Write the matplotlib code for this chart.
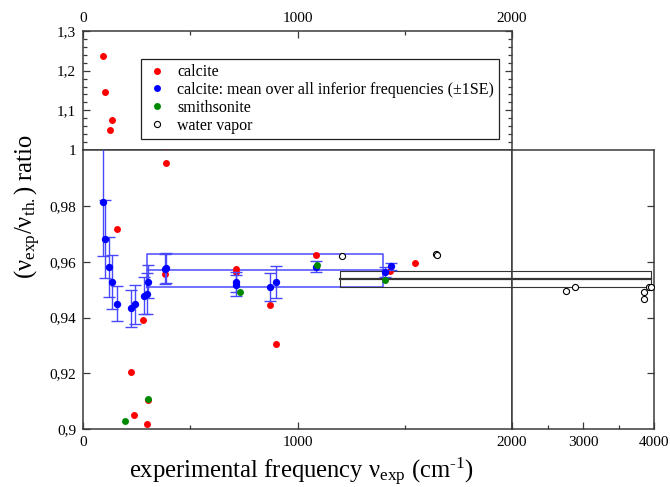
import matplotlib.pyplot as plt
from matplotlib.lines import Line2D

plt.rcParams['font.family'] = ['Liberation Serif', 'DejaVu Serif']
plt.rcParams['mathtext.fontset'] = 'custom'
plt.rcParams['mathtext.rm'] = 'Liberation Serif'
plt.rcParams['mathtext.it'] = 'Liberation Serif:italic'

# calcite (individual frequencies)
calcite_freq = [93, 104, 124, 134, 157, 224, 239, 281, 297, 301, 381, 387,
                712, 712, 872, 900, 1086, 1431, 1548]
calcite_ratio = [1.2375, 1.1453, 1.0512, 1.0756, 0.9717, 0.9205, 0.9050, 0.9392,
                 0.9018, 0.9106, 0.9556, 0.9952, 0.9573, 0.9564, 0.9444, 0.9307,
                 0.9624, 0.9567, 0.9594]

# calcite: mean over all inferior frequencies (+-1SE)
mean_freq = [93, 103, 123, 134, 157, 224, 242, 283, 298, 305, 382, 386,
             712, 712, 872, 900, 1086, 1408, 1436]
mean_ratio = [0.9815, 0.9680, 0.9582, 0.9527, 0.9450, 0.9433, 0.9448, 0.9479,
              0.9486, 0.9529, 0.9573, 0.9577, 0.9526, 0.9516, 0.9510, 0.9526,
              0.9582, 0.9564, 0.9583]
mean_se = [0.0195, 0.0140, 0.0107, 0.0097, 0.0064, 0.0066, 0.0070, 0.0067,
           0.0072, 0.0060, 0.0054, 0.0054, 0.0036, 0.0038, 0.0049, 0.0057,
           0.0020, 0.0018, 0.0011]

# smithsonite
smith_freq = [196, 303, 732, 1092, 1408]
smith_ratio = [0.9029, 0.9110, 0.9491, 0.9588, 0.9535]

# water vapor
water_freq = [1206, 1644, 1652, 2763, 2885, 3850, 3850, 3930, 3948]
water_ratio = [0.9620, 0.9629, 0.9624, 0.9496, 0.9510, 0.9490, 0.9465, 0.9511, 0.9511]

# overall means (range of frequencies, lower, mean, upper)
calcite_band_x = [300, 1400]
calcite_band = [0.9509, 0.9570, 0.9627]
water_band_x = [1200, 3950]
water_band = [0.9508, 0.9537, 0.9567]

W, H = 670, 487
fig = plt.figure(figsize=(W / 100, H / 100), dpi=100)


def px_axes(x0, y0, x1, y1):
    return fig.add_axes([x0 / W, 1 - y1 / H, (x1 - x0) / W, (y1 - y0) / H])


ax_up = px_axes(83, 31, 512, 150)
ax_lo = px_axes(83, 150, 512, 429.3)
ax_r = px_axes(512, 150, 654.3, 429.3)

spine_col = '#3a3a3a'
for ax in (ax_up, ax_lo, ax_r):
    for s in ax.spines.values():
        s.set_color(spine_col)
        s.set_linewidth(1.1)
    ax.tick_params(which='both', direction='in', color=spine_col, labelsize=11,
                   width=0.9)
    ax.tick_params(which='major', length=5)
    ax.tick_params(which='minor', length=3)

# upper panel
ax_up.set_xlim(0, 2000)
ax_up.set_ylim(1.0, 1.3)
ax_up.xaxis.tick_top()
ax_up.set_xticks([0, 1000, 2000], ['0', '1000', '2000'])
ax_up.set_xticks([500, 1500], minor=True)
ax_up.set_yticks([1.0, 1.1, 1.2, 1.3], ['1', '1,1', '1,2', '1,3'])
ax_up.set_yticks([1 + 0.02 * i for i in range(1, 15) if i % 5 != 0], minor=True)
ax_up.tick_params(axis='y', which='both', left=True, right=True, pad=5)
ax_up.tick_params(axis='x', which='both', top=True, bottom=False, pad=4)

# lower-left panel
ax_lo.set_xlim(0, 2000)
ax_lo.set_ylim(0.9, 1.0)
ax_lo.set_xticks([0, 1000], ['0', '1000'])
ax_lo.set_xticks([500, 1500], minor=True)
ax_lo.set_yticks([0.9, 0.92, 0.94, 0.96, 0.98], ['0,9', '0,92', '0,94', '0,96', '0,98'])
ax_lo.tick_params(axis='y', right=False, pad=5)
ax_lo.tick_params(axis='x', which='both', top=False, pad=5)

# lower-right panel
ax_r.set_xlim(2000, 4000)
ax_r.set_ylim(0.9, 1.0)
ax_r.set_xticks([2000, 3000, 4000], ['2000', '3000', '4000'])
ax_r.set_xticks([2500, 3500], minor=True)
ax_r.yaxis.tick_right()
ax_r.set_yticks([0.92, 0.94, 0.96, 0.98], [])
ax_r.tick_params(axis='y', left=False, right=True)
ax_r.tick_params(axis='x', which='both', top=False, pad=5)


def draw_band(ax, xr, band, color, lw, mid_lw):
    lo, mid, hi = band
    ax.plot([xr[0], xr[1], xr[1], xr[0], xr[0]], [lo, lo, hi, hi, lo],
            color=color, lw=lw, zorder=2)
    ax.plot(xr, [mid, mid], color=color, lw=mid_lw, zorder=2)


for ax in (ax_lo, ax_r):
    draw_band(ax, calcite_band_x, calcite_band, '#4a4aff', 1.1, 1.1)
    draw_band(ax, water_band_x, water_band, '#333333', 0.8, 1.6)

ms = 5
for ax in (ax_up, ax_lo, ax_r):
    ax.plot(calcite_freq, calcite_ratio, 'o', color='#ff0000', ms=ms, mew=0, zorder=3)

ax_lo.errorbar(mean_freq, mean_ratio, yerr=mean_se, fmt='none',
               ecolor='#4848ff', elinewidth=1.0, capsize=4.5, capthick=1.0, zorder=4)
ax_lo.plot(mean_freq, mean_ratio, 'o', color='#0000ff', ms=ms + 0.3, mew=0, zorder=4)

for ax in (ax_lo, ax_r):
    ax.plot(smith_freq, smith_ratio, 'o', color='#008a00', ms=ms, mew=0, zorder=5)
    ax.plot(water_freq, water_ratio, 'o', mfc='white', mec='black', ms=4.4,
            mew=0.8, zorder=6)

handles = [
    Line2D([], [], ls='none', marker='o', color='#ff0000', ms=ms, mew=0),
    Line2D([], [], ls='none', marker='o', color='#0000ff', ms=ms, mew=0),
    Line2D([], [], ls='none', marker='o', color='#008a00', ms=ms, mew=0),
    Line2D([], [], ls='none', marker='o', mfc='white', mec='black', ms=4.4, mew=0.8),
]
labels = ['calcite', 'calcite: mean over all inferior frequencies (\u00b11SE)',
          'smithsonite', 'water vapor']
leg = ax_up.legend(handles, labels, loc='upper left',
                   bbox_to_anchor=((140.7 - 83) / 429, (150 - 59.3) / 119),
                   borderaxespad=0, fontsize=11.5, fancybox=False, frameon=True,
                   edgecolor='#222222', framealpha=1, handlelength=1.4,
                   handletextpad=0.6, labelspacing=0.12, borderpad=0.3)
leg.get_frame().set_linewidth(0.9)

xlabel = 'experimental frequency ν$_{\\rm exp}$ (cm$^{\\rm \u20101}$)'
fig.text(301 / W, 1 - 472 / H, xlabel, ha='center', va='center', fontsize=17.7)
fig.text(28 / W, 1 - 207 / H, r'(ν$_{\rm exp}$/ν$_{\rm th.}$) ratio',
         ha='center', va='center', rotation=90, fontsize=17.7)

fig.savefig('out.png', dpi=100)
